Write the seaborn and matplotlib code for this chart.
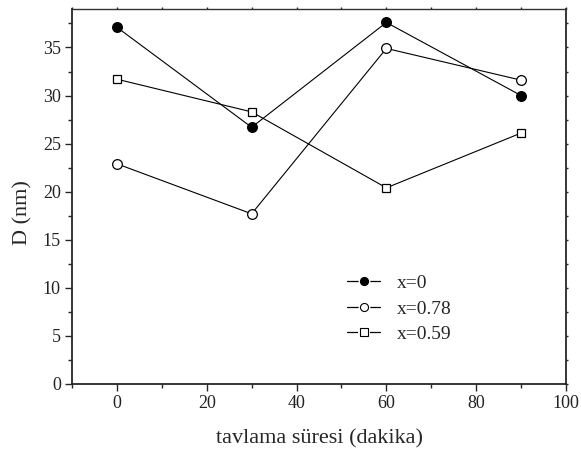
import matplotlib
matplotlib.use("Agg")
import matplotlib.pyplot as plt
import seaborn as sns
import pandas as pd
from matplotlib.ticker import MultipleLocator
from matplotlib.lines import Line2D

time_min = [0, 30, 60, 90]
d_x0 = [37.1, 26.7, 37.6, 30.0]
d_x078 = [22.9, 17.7, 34.9, 31.6]
d_x059 = [31.7, 28.3, 20.4, 26.1]
labels = ["x=0", "x=0.78", "x=0.59"]

sns.set_style("ticks")
plt.rcParams['font.family'] = ['Liberation Serif', 'DejaVu Serif']

fig = plt.figure(figsize=(5.81, 4.55), dpi=100)
ax = fig.add_axes([72/581, 1-384/455, (566-72)/581, (384-9)/455])

series = [(d_x0, labels[0], 'o', 'black'),
          (d_x078, labels[1], 'o', 'white'),
          (d_x059, labels[2], 's', 'white')]
handles = []
for vals, lab, mk, fc in series:
    df = pd.DataFrame({"t": time_min, "D": vals})
    sns.lineplot(data=df, x="t", y="D", ax=ax, color="black", linewidth=0.8,
                 marker=mk, markersize=7 if mk == 'o' else 6,
                 markerfacecolor=fc, markeredgecolor="black",
                 markeredgewidth=0.9, legend=False)
    ln = Line2D([], [], color='black', linewidth=0.9)
    gap = Line2D([], [], linestyle='none', marker=mk, markersize=8.5,
                 markerfacecolor='white', markeredgecolor='white', markeredgewidth=0)
    mkh = Line2D([], [], linestyle='none', marker=mk, markersize=5.8 if mk == 'o' else 5.3,
                 markerfacecolor=fc, markeredgecolor='black', markeredgewidth=0.8)
    handles.append((ln, gap, mkh))

ax.set_xlim(-10, 100)
ax.set_ylim(0, 39)
ax.xaxis.set_major_locator(MultipleLocator(20))
ax.xaxis.set_minor_locator(MultipleLocator(10))
ax.yaxis.set_major_locator(MultipleLocator(5))
ax.yaxis.set_minor_locator(MultipleLocator(2.5))
ax.tick_params(which='major', direction='out', length=5, width=1, labelsize=13, pad=3,
               top=True, right=True)
ax.tick_params(which='minor', direction='out', length=3, width=1, top=True, right=True)
ax.tick_params(axis='x', which='both', labeltop=False)
ax.tick_params(axis='y', which='both', labelright=False)
for lab in ax.get_xticklabels() + ax.get_yticklabels():
    lab.set_color('#222222')
for t in ax.xaxis.get_major_ticks() + ax.xaxis.get_minor_ticks():
    t.tick2line.set_markersize(1.5)
for t in ax.yaxis.get_major_ticks() + ax.yaxis.get_minor_ticks():
    t.tick2line.set_markersize(1.5)

for side in ['left', 'bottom', 'right']:
    ax.spines[side].set_linewidth(1.3)
ax.spines['top'].set_linewidth(1.0)
ax.spines['top'].set_color('#333333')

ax.set_xlabel("tavlama süresi (dakika)", fontsize=16)
ax.xaxis.set_label_coords(0.5, -0.12)
ax.set_ylabel("D (nm)", fontsize=16)
ax.yaxis.set_label_coords(-0.08, 0.456)

leg = ax.legend(handles, labels, loc='upper left', bbox_to_anchor=(0.557, 0.292),
                frameon=False, fontsize=14, handlelength=1.7, handletextpad=0.85,
                labelspacing=0.4, borderaxespad=0, borderpad=0)

fig.savefig("out.png", dpi=100)
